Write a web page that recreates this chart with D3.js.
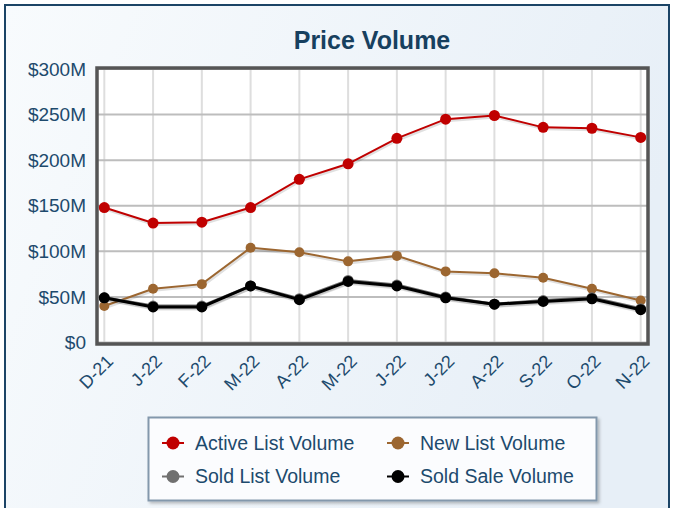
<!DOCTYPE html>
<html>
<head>
<meta charset="utf-8">
<script src="https://cdn.jsdelivr.net/npm/d3@7"></script>
<style>
  body { margin: 0; background: #fff; }
  svg { display: block; font-family: "Liberation Sans", Arial, sans-serif; }
</style>
</head>
<body>
<svg id="chart" width="673" height="508"></svg>
<script>
  // chart data
  const months = ['D-21', 'J-22', 'F-22', 'M-22', 'A-22', 'M-22', 'J-22', 'J-22', 'A-22', 'S-22', 'O-22', 'N-22'];
  const activeList = [148, 131, 132, 148, 179, 196, 224, 245, 249, 236, 235, 225];
  const newList = [40, 59, 64, 104, 99, 89, 95, 78, 76, 71, 59, 46];
  const soldList = [49, 40, 40, 62, 48, 68, 63, 50, 42, 46, 49, 37];
  const soldSale = [49, 39, 39, 62, 47, 67, 62, 49, 42, 45, 48, 36];
  const yTicks = [0, 50, 100, 150, 200, 250, 300];

  const series = [
    {key: 'Active List Volume', values: activeList, color: '#c00000', width: 2, r: 5.5},
    {key: 'New List Volume', values: newList, color: '#9c6630', width: 2, r: 5},
    {key: 'Sold List Volume', values: soldList, color: '#707070', width: 3, r: 5.5},
    {key: 'Sold Sale Volume', values: soldSale, color: '#000000', width: 3, r: 5.5}
  ];

  const svg = d3.select('#chart');
  const textColor = '#1d4a6d';

  // background panel
  const defs = svg.append('defs');
  const grad = defs.append('linearGradient')
      .attr('id', 'bg')
      .attr('x1', '0').attr('y1', '0').attr('x2', '1').attr('y2', '0.3');
  grad.append('stop').attr('offset', '0').attr('stop-color', '#f8fbfd');
  grad.append('stop').attr('offset', '1').attr('stop-color', '#e7eff7');

  const shadow = defs.append('filter').attr('id', 'shadow')
      .attr('x', '-10%').attr('y', '-10%').attr('width', '130%').attr('height', '140%');
  shadow.append('feDropShadow')
      .attr('dx', 2).attr('dy', 2).attr('stdDeviation', 1.5)
      .attr('flood-color', '#000').attr('flood-opacity', 0.25);

  svg.append('rect')
      .attr('x', 5).attr('y', 5)
      .attr('width', 664).attr('height', 520)
      .attr('fill', 'url(#bg)')
      .attr('stroke', '#1b4466')
      .attr('stroke-width', 2);

  svg.append('text')
      .attr('x', 372).attr('y', 49)
      .attr('text-anchor', 'middle')
      .attr('font-size', 25)
      .attr('font-weight', 'bold')
      .attr('fill', '#17405f')
      .text('Price Volume');

  // plot area
  const plot = {left: 97, right: 648, top: 68, bottom: 344};

  const x = d3.scalePoint()
      .domain(d3.range(months.length))
      .range([104.3, 640.7]);

  const y = d3.scaleLinear()
      .domain([0, 300])
      .range([342.5, 69]);

  svg.append('rect')
      .attr('x', plot.left).attr('y', plot.top)
      .attr('width', plot.right - plot.left)
      .attr('height', plot.bottom - plot.top)
      .attr('fill', '#fff');

  svg.append('g')
      .attr('class', 'grid-x')
      .selectAll('line')
      .data(d3.range(months.length))
      .enter()
      .append('line')
      .attr('x1', d => x(d)).attr('x2', d => x(d))
      .attr('y1', plot.top).attr('y2', plot.bottom)
      .attr('stroke', '#dedede')
      .attr('stroke-width', 2);

  svg.append('g')
      .attr('class', 'grid-y')
      .selectAll('line')
      .data(yTicks)
      .enter()
      .append('line')
      .attr('x1', plot.left).attr('x2', plot.right)
      .attr('y1', d => y(d)).attr('y2', d => y(d))
      .attr('stroke', '#bdbdbd')
      .attr('stroke-width', 2);

  // lines
  const line = d3.line()
      .x((d, i) => x(i))
      .y(d => y(d));

  const layers = svg.append('g').attr('class', 'series')
      .selectAll('g')
      .data(series)
      .enter()
      .append('g');

  layers.append('path')
      .attr('d', d => line(d.values))
      .attr('fill', 'none')
      .attr('stroke', 'rgba(0,0,0,0.12)')
      .attr('stroke-width', d => d.width + 1)
      .attr('transform', 'translate(1,1.5)');

  layers.append('path')
      .attr('d', d => line(d.values))
      .attr('fill', 'none')
      .attr('stroke', d => d.color)
      .attr('stroke-width', d => d.width);

  layers.selectAll('circle')
      .data(d => d.values.map(v => ({v: v, s: d})))
      .enter()
      .append('circle')
      .attr('cx', (d, i) => x(i))
      .attr('cy', d => y(d.v))
      .attr('r', d => d.s.r)
      .attr('fill', d => d.s.color);

  // frame
  svg.append('rect')
      .attr('x', plot.left).attr('y', plot.top)
      .attr('width', plot.right - plot.left)
      .attr('height', plot.bottom - plot.top)
      .attr('fill', 'none')
      .attr('stroke', '#555')
      .attr('stroke-width', 3.5);

  // axes
  const yAxis = svg.append('g')
      .attr('transform', 'translate(' + (plot.left - 1) + ',0)')
      .call(d3.axisLeft(y).tickValues(yTicks).tickSize(0).tickPadding(10)
          .tickFormat(d => '$' + d + (d ? 'M' : '')));
  yAxis.select('.domain').remove();
  yAxis.selectAll('text')
      .attr('font-size', 19)
      .attr('font-family', '"Liberation Sans", Arial, sans-serif')
      .attr('fill', textColor);

  const xAxis = svg.append('g')
      .attr('transform', 'translate(0,' + plot.bottom + ')')
      .call(d3.axisBottom(x).tickSize(0).tickFormat(i => months[i]));
  xAxis.select('.domain').remove();
  xAxis.selectAll('text')
      .attr('y', 0)
      .attr('dy', '0.35em')
      .attr('text-anchor', 'end')
      .attr('transform', 'translate(5,14) rotate(-45)')
      .attr('font-size', 18)
      .attr('font-family', '"Liberation Sans", Arial, sans-serif')
      .attr('fill', textColor);

  // legend
  const legend = svg.append('g').attr('class', 'legend');
  legend.append('rect')
      .attr('x', 148.5).attr('y', 417.5)
      .attr('width', 448).attr('height', 83)
      .attr('fill', '#fbfcfe')
      .attr('stroke', '#8398ac')
      .attr('stroke-width', 2)
      .attr('filter', 'url(#shadow)');

  const item = legend.selectAll('.legend__item')
      .data(series)
      .enter()
      .append('g')
      .attr('class', 'legend__item')
      .attr('transform', (d, i) => 'translate(' + (i % 2 ? 398 : 173) + ',' + (i < 2 ? 443 : 476.5) + ')');

  item.append('line')
      .attr('x1', -11).attr('x2', 11)
      .attr('stroke', d => d.color)
      .attr('stroke-width', 2);
  item.append('circle')
      .attr('r', 6.5)
      .attr('fill', d => d.color);
  item.append('text')
      .attr('x', 22)
      .attr('dy', '0.35em')
      .attr('font-size', 19.5)
      .attr('fill', textColor)
      .text(d => d.key);
</script>
</body>
</html>
